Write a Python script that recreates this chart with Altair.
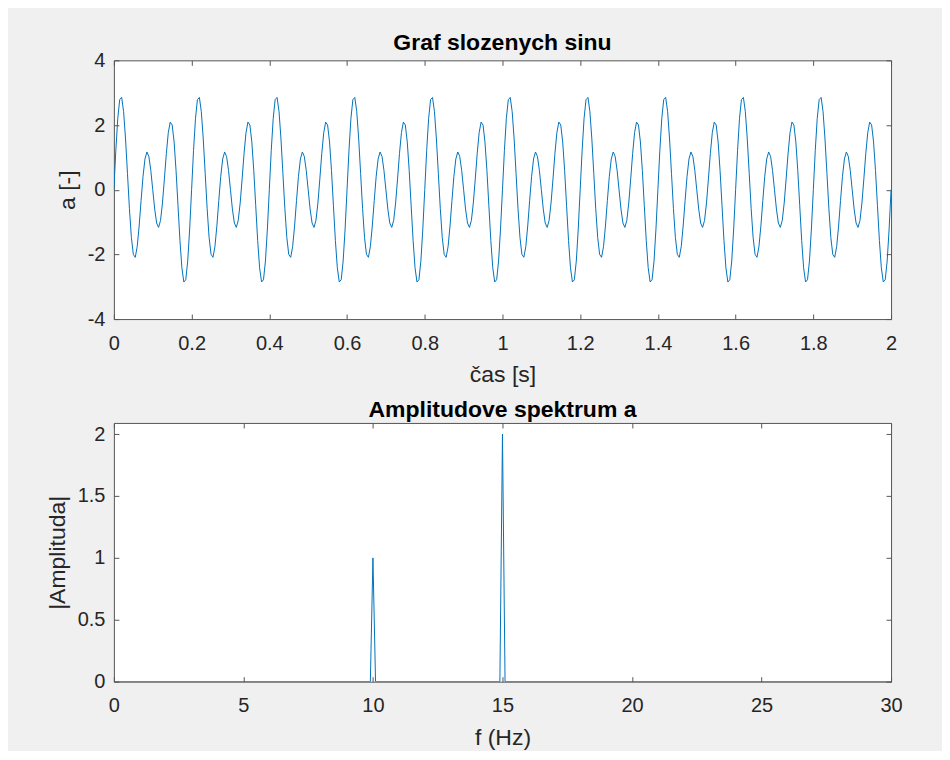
import altair as alt
import pandas as pd

# ---- data ----
# one period (0.2 s) of the summed signal, sampled every 5 ms; the picture repeats it 10 times over 0..2 s
sample_step = 0.005
period_values = [0.000, 1.217, 2.206, 2.784, 2.853, 2.414, 1.569, 0.496, -0.588, -1.473,
                 -2.000, -2.091, -1.763, -1.122, -0.333, 0.414, 0.951, 1.166, 1.030, 0.599,
                 0.000, -0.599, -1.030, -1.166, -0.951, -0.414, 0.333, 1.122, 1.763, 2.091,
                 2.000, 1.473, 0.588, -0.496, -1.569, -2.414, -2.853, -2.784, -2.206, -1.217]
n_periods = 10

# amplitude spectrum
freqs = [0.0, 9.9, 10.0, 10.1, 14.9, 15.0, 15.1, 30.0]
amps = [0.0, 0.0, 1.0, 0.0, 0.0, 2.0, 0.0, 0.0]

time_ticks = [0, 0.2, 0.4, 0.6, 0.8, 1, 1.2, 1.4, 1.6, 1.8, 2]
a_ticks = [-4, -2, 0, 2, 4]
f_ticks = [0, 5, 10, 15, 20, 25, 30]
amp_ticks = [0, 0.5, 1, 1.5, 2]

n_total = len(period_values) * n_periods + 1
sig = pd.DataFrame({
    "t": [round(k * sample_step, 4) for k in range(n_total)],
    "a": [period_values[k % len(period_values)] for k in range(n_total)],
})
spec = pd.DataFrame({"f": freqs, "amp": amps})

BLUE = "#0072BD"
AXC = "#555555"
TXT = "#262626"
FONT = "Liberation Sans"
W, H = 778, 259


def panel(df, xf, yf, xdom, ydom, xt, yt, xtitle, ytitle, title, toff):
    xs = alt.Scale(domain=xdom, nice=False, zero=False)
    ys = alt.Scale(domain=ydom, nice=False, zero=False)
    lab = dict(labelFont=FONT, labelFontSize=20, labelColor=TXT, labelFlush=False,
               labelExpr="'' + datum.value", grid=False, ticks=False, domain=False,
               titleFont=FONT, titleFontSize=23, titleFontWeight="normal", titleColor=TXT)
    tk = dict(labels=False, domain=False, ticks=True, tickSize=5, tickColor=AXC,
              tickWidth=1, offset=-5, grid=False, title=None, minExtent=0, maxExtent=0)
    base = alt.Chart(df)
    main = base.mark_line(color=BLUE, strokeWidth=1, clip=True).encode(
        x=alt.X(f"{xf}:Q", scale=xs,
                axis=alt.Axis(orient="bottom", values=xt, labelPadding=14,
                              title=xtitle, titlePadding=11, **lab)),
        y=alt.Y(f"{yf}:Q", scale=ys,
                axis=alt.Axis(orient="left", values=yt, labelPadding=9,
                              title=ytitle, titlePadding=8, **lab)),
    )
    t1 = base.mark_line(opacity=0).encode(
        x=alt.X(f"{xf}:Q", scale=xs, axis=alt.Axis(orient="bottom", values=xt, **tk)),
        y=alt.Y(f"{yf}:Q", scale=ys, axis=alt.Axis(orient="left", values=yt, **tk)),
    )
    t2 = base.mark_line(opacity=0).encode(
        x=alt.X(f"{xf}:Q", scale=xs, axis=alt.Axis(orient="top", values=xt, **tk)),
        y=alt.Y(f"{yf}:Q", scale=ys, axis=alt.Axis(orient="right", values=yt, **tk)),
    )
    return alt.layer(main, t1, t2).resolve_axis(x="independent", y="independent").properties(
        width=W, height=H,
        title=alt.TitleParams(title, font=FONT, fontSize=23, fontWeight="bold", color="#000000",
                              anchor="middle", offset=toff),
    )


top = panel(sig, "t", "a", [0, 2], [-4, 4], time_ticks, a_ticks,
            "čas [s]", "a [-]", "Graf slozenych sinu", -5)
bottom = panel(spec, "f", "amp", [0, 30], [0, 2.09], f_ticks, amp_ticks,
               "f (Hz)", "|Amplitudа|", "Amplitudove spektrum a", 0)

chart = alt.vconcat(top, bottom, spacing=11).properties(
    background="#f0f0f0",
    padding={"left": 37, "top": 23, "right": 39, "bottom": 0},
).configure_view(stroke=AXC, strokeWidth=1, fill="white")

chart.save("out.html", embed_options={"renderer": "svg", "actions": False})
